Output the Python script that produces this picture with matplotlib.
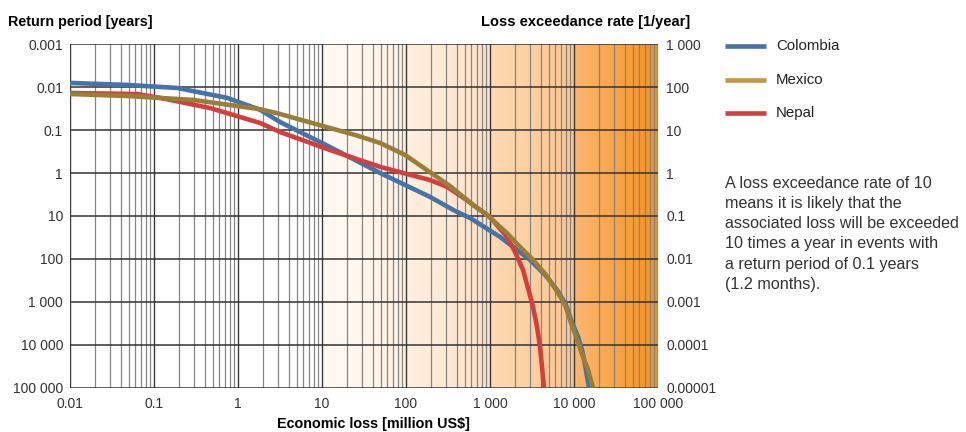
import numpy as np
import matplotlib
matplotlib.use("Agg")
import matplotlib.pyplot as plt
from matplotlib.lines import Line2D
from matplotlib.colors import to_rgb

plt.rcParams['font.family'] = ['Liberation Sans', 'DejaVu Sans']

# ---- data (economic loss in million US$, loss exceedance rate in 1/year) ----
colombia_loss = [0.01, 0.0478, 0.188, 0.74, 1.83, 3.16, 12.4, 49, 193, 383, 578, 1315, 2990, 4520, 6280,
                 8030, 9200, 11170, 12450, 13520, 15100]
colombia_rate = [127, 114, 97, 57, 30, 15.6, 4.08, 1.01, 0.279, 0.1315, 0.090, 0.0326, 0.0095, 0.00424, 0.00189,
                 8.5e-4, 3.79e-4, 1.52e-4, 7.6e-5, 3.4e-5, 1.0e-5]

mexico_loss = [0.01, 0.0478, 0.291, 1.83, 3.16, 12.4, 24.7, 49, 97.2, 193, 334, 628, 921, 1315, 1590, 2155,
               3250, 4640, 6110, 7820, 8960, 10570, 12800, 14700, 16800]
mexico_rate = [70, 63, 51, 31, 24, 11.3, 7.77, 5.06, 2.66, 1.05, 0.50, 0.181, 0.106, 0.056, 0.040, 0.0212,
               0.0095, 0.00424, 0.00189, 8.5e-4, 3.79e-4, 1.52e-4, 5.2e-5, 2.6e-5, 1.0e-5]

nepal_loss = [0.01, 0.0628, 0.118, 0.464, 1.83, 3.16, 12.4, 49, 193, 308, 504, 760, 1000, 1590, 1985, 2470,
              2830, 3250, 3630, 3940, 4160, 4390]
nepal_rate = [74, 70, 57, 33, 14.8, 9.1, 3.47, 1.40, 0.69, 0.48, 0.25, 0.139, 0.095, 0.0326, 0.01456, 0.00555,
              0.00211, 7.6e-4, 2.6e-4, 8.9e-5, 3.04e-5, 1.0e-5]

series_names = ["Colombia", "Mexico", "Nepal"]
rate_ticks = [1e3, 1e2, 1e1, 1e0, 1e-1, 1e-2, 1e-3, 1e-4, 1e-5]
left_labels = ["0.001", "0.01", "0.1", "1", "10", "100", "1 000", "10 000", "100 000"]
right_labels = ["1 000", "100", "10", "1", "0.1", "0.01", "0.001", "0.0001", "0.00001"]
loss_ticks = [0.01, 0.1, 1, 10, 100, 1000, 10000, 100000]
loss_labels = ["0.01", "0.1", "1", "10", "100", "1 000", "10 000", "100 000"]

annotation = ("A loss exceedance rate of 10\nmeans it is likely that the\n"
              "associated loss will be exceeded\n10 times a year in events with\n"
              "a return period of 0.1 years\n(1.2 months).")

line_colors = {"Colombia": "#4673a8", "Mexico": "#9a7e38", "Nepal": "#d2403e"}
legend_colors = {"Colombia": "#4673a8", "Mexico": "#c89440", "Nepal": "#d2403e"}

W, H = 966, 432
fig = plt.figure(figsize=(W / 100, H / 100), dpi=100)
L, R, T, B = 70, 658, 44.5, 387.5
ax = fig.add_axes([L / W, 1 - B / H, (R - L) / W, (B - T) / H])
ax.set_xscale('log')
ax.set_yscale('log')
ax.set_xlim(0.01, 100000)
ax.set_ylim(1e-5, 1e3)

# background gradient (per decade bands from 10 upward)
ncol = 700
lx = np.linspace(-2, 5, ncol)
bands = [(-2, 1, "#ffffff", "#ffffff"),
         (1, 2, "#fffaf4", "#fff1e4"),
         (2, 3, "#ffefdf", "#fee2c8"),
         (3, 4, "#fed9b4", "#fdc58e"),
         (4, 5, "#fcb770", "#f7911c")]
img = np.ones((1, ncol, 3))
for a, b, c0, c1 in bands:
    m = (lx >= a) & (lx <= b)
    t = (lx[m] - a) / (b - a)
    c0, c1 = np.array(to_rgb(c0)), np.array(to_rgb(c1))
    img[0, m, :] = c0[None, :] * (1 - t[:, None]) + c1[None, :] * t[:, None]
ax.imshow(img, extent=[0, 1, 0, 1], transform=ax.transAxes, aspect='auto', zorder=0, interpolation='bilinear')

# grid
for d in range(-2, 5):
    for k in range(2, 10):
        ax.axvline(k * 10.0 ** d, color='#858585', lw=0.9, zorder=1)
for v in loss_ticks:
    ax.axvline(v, color='#3a3a3a', lw=1.0, zorder=1.5)
for v in rate_ticks:
    ax.axhline(v, color='#333333', lw=1.1, zorder=1.5)

for s in ax.spines.values():
    s.set_visible(False)

kw = dict(lw=3.3, solid_capstyle='butt', solid_joinstyle='round')
ax.plot(colombia_loss, colombia_rate, color=line_colors["Colombia"], zorder=3, **kw)
ax.plot(nepal_loss, nepal_rate, color=line_colors["Nepal"], zorder=4, **kw)
ax.plot(mexico_loss, mexico_rate, color=line_colors["Mexico"], zorder=5, **kw)

ax.set_xticks(loss_ticks)
ax.set_xticklabels(loss_labels)
ax.xaxis.set_minor_locator(matplotlib.ticker.NullLocator())
ax.yaxis.set_minor_locator(matplotlib.ticker.NullLocator())
ax.set_yticks(rate_ticks)
ax.set_yticklabels(left_labels)
ax.tick_params(axis='both', length=0, labelsize=10, colors='#333333')
ax.tick_params(axis='x', pad=7)
ax.tick_params(axis='y', pad=5)

ax2 = ax.twinx()
ax2.set_yscale('log')
ax2.set_ylim(1e-5, 1e3)
ax2.set_yticks(rate_ticks)
ax2.set_yticklabels(right_labels)
ax2.yaxis.set_minor_locator(matplotlib.ticker.NullLocator())
ax2.tick_params(axis='y', length=0, labelsize=10, colors='#333333', pad=6)
for s in ax2.spines.values():
    s.set_visible(False)

fig.text(8 / W, 1 - 22 / H, "Return period [years]", fontsize=10.3, fontweight='bold', ha='left', va='center')
fig.text(690 / W, 1 - 22 / H, "Loss exceedance rate [1/year]", fontsize=10.5, fontweight='bold', ha='right', va='center')
fig.text(373 / W, 1 - 424 / H, "Economic loss [million US$]", fontsize=10.4, fontweight='bold', ha='center', va='center')

# legend
for name, yy in zip(series_names, [46, 80, 113]):
    fig.add_artist(Line2D([725 / W, 766 / W], [1 - yy / H, 1 - yy / H], color=legend_colors[name], lw=3.3,
                          transform=fig.transFigure, solid_capstyle='butt'))
    fig.text(776 / W, 1 - yy / H, name, fontsize=10.8, ha='left', va='center', color='#222222')

fig.text(725 / W, 1 - 176 / H, annotation, fontsize=11.6, ha='left', va='top', color='#333333', linespacing=1.43)

fig.savefig("out.png", dpi=100)
